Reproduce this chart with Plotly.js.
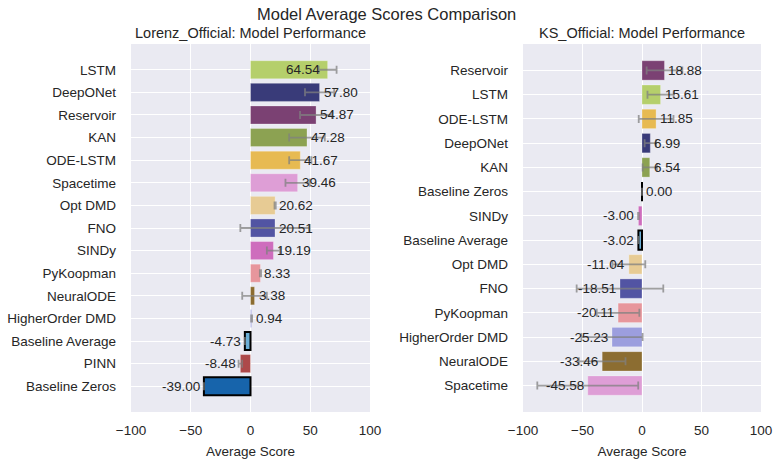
<!DOCTYPE html>
<html>
<head>
<meta charset="utf-8">
<script src="https://cdn.plot.ly/plotly-3.0.1.min.js"></script>
<style>
  html, body { margin: 0; padding: 0; background: #ffffff; }
  #chart { width: 779px; height: 465px; }
</style>
</head>
<body>
<div id="chart"></div>
<script>
// Lorenz_Official: models sorted by average score (top to bottom)
const lorenzModels = ["LSTM", "DeepONet", "Reservoir", "KAN", "ODE-LSTM", "Spacetime", "Opt DMD", "FNO",
  "SINDy", "PyKoopman", "NeuralODE", "HigherOrder DMD", "Baseline Average", "PINN", "Baseline Zeros"];
const lorenzScores = [64.54, 57.80, 54.87, 47.28, 41.67, 39.46, 20.62, 20.51,
  19.19, 8.33, 3.38, 0.94, -4.73, -8.48, -39.00];
const lorenzErrors = [7.5, 12.2, 13.4, 14.9, 9.3, 10.2, 0.5, 29.0,
  5.5, 0.5, 10.3, 0.4, 0, 1.5, 0];

// KS_Official: models sorted by average score (top to bottom)
const ksModels = ["Reservoir", "LSTM", "ODE-LSTM", "DeepONet", "KAN", "Baseline Zeros", "SINDy",
  "Baseline Average", "Opt DMD", "FNO", "PyKoopman", "HigherOrder DMD", "NeuralODE", "Spacetime"];
const ksScores = [18.88, 15.61, 11.85, 6.99, 6.54, 0.00, -3.00,
  -3.02, -11.04, -18.51, -20.11, -25.23, -33.46, -45.58];
const ksErrors = [15.0, 11.0, 14.6, 4.8, 6.0, 0, 0.3,
  0, 13.8, 36.4, 17.9, 25.7, 19.6, 42.4];

const xTicks = [-100, -50, 0, 50, 100];

// One fixed colour per model so both panels agree
const modelColors = {
  "LSTM": "#b5cf6b", "DeepONet": "#393b79", "Reservoir": "#7b4173", "KAN": "#8ca252",
  "ODE-LSTM": "#e7ba52", "Spacetime": "#de9ed6", "Opt DMD": "#e7cb94", "FNO": "#5254a3",
  "SINDy": "#ce6dbd", "PyKoopman": "#e7969c", "NeuralODE": "#8c6d31", "HigherOrder DMD": "#9c9ede",
  "Baseline Average": "#6baed6", "PINN": "#ad494a", "Baseline Zeros": "#1764ab"
};
const isBaseline = m => m.startsWith("Baseline");

const textColor = "#262626";
const fontFamily = "'Liberation Sans', Arial, Helvetica, sans-serif";

function barTrace(models, scores, errors, xa, ya) {
  return {
    type: "bar", orientation: "h",
    x: scores, y: models, xaxis: xa, yaxis: ya,
    width: 0.8,
    marker: {
      color: models.map(m => modelColors[m]),
      line: {
        color: models.map(m => isBaseline(m) ? "#000000" : "rgba(255,255,255,0.35)"),
        width: models.map(m => isBaseline(m) ? 2 : 0.8)
      }
    },
    error_x: {
      type: "data", array: errors, symmetric: true,
      color: "rgba(128,128,128,0.75)", thickness: 1.8, width: 4
    },
    hoverinfo: "x+y", showlegend: false
  };
}

function valueLabels(models, scores, xa, ya) {
  return scores.map((v, i) => {
    const crowded = v > 60;            // too close to the right edge: tuck inside the bar
    const right = v < 0 || crowded;
    return {
      x: v, y: models[i], xref: xa, yref: ya,
      text: v.toFixed(2), showarrow: false,
      xanchor: right ? "right" : "left",
      xshift: crowded ? -6 : (right ? -2 : 2),
      font: { family: fontFamily, size: 13.5, color: textColor }
    };
  });
}

function xAxis(domain, anchor) {
  return {
    domain: domain, anchor: anchor, range: [-100, 100],
    tickvals: xTicks, ticks: "", showline: false, zeroline: false,
    showgrid: true, gridcolor: "#ffffff", gridwidth: 1,
    tickfont: { family: fontFamily, size: 13.5, color: textColor },
    ticklabelstandoff: 8,
    title: { text: "Average Score", font: { family: fontFamily, size: 13.5, color: textColor }, standoff: 10 }
  };
}

function yAxis(domain, anchor, n) {
  const pad = 0.4 + 0.05 * (n - 1 + 0.8);
  return {
    domain: domain, anchor: anchor, type: "category",
    range: [n - 1 + pad, -pad],
    ticks: "", showline: false, zeroline: false,
    showgrid: true, gridcolor: "#ffffff", gridwidth: 1,
    tickfont: { family: fontFamily, size: 13.5, color: textColor },
    ticklabelstandoff: 14
  };
}

const yDom = [53 / 465, 421 / 465];

const data = [
  barTrace(lorenzModels, lorenzScores, lorenzErrors, "x", "y"),
  barTrace(ksModels, ksScores, ksErrors, "x2", "y2")
];

const annotations = [
  { text: "Model Average Scores Comparison", x: 386 / 779, y: 1 - 14 / 465, xref: "paper", yref: "paper",
    showarrow: false, xanchor: "center", yanchor: "middle",
    font: { family: fontFamily, size: 16.5, color: textColor } },
  { text: "Lorenz_Official: Model Performance", x: 250.5 / 779, y: 1 - 33 / 465, xref: "paper", yref: "paper",
    showarrow: false, xanchor: "center", yanchor: "middle",
    font: { family: fontFamily, size: 14.5, color: textColor } },
  { text: "KS_Official: Model Performance", x: 642 / 779, y: 1 - 33 / 465, xref: "paper", yref: "paper",
    showarrow: false, xanchor: "center", yanchor: "middle",
    font: { family: fontFamily, size: 14.5, color: textColor } }
].concat(valueLabels(lorenzModels, lorenzScores, "x", "y"))
 .concat(valueLabels(ksModels, ksScores, "x2", "y2"));

const layout = {
  width: 779, height: 465,
  margin: { l: 0, r: 0, t: 0, b: 0 },
  paper_bgcolor: "#ffffff",
  plot_bgcolor: "#eaeaf2",
  font: { family: fontFamily, color: textColor },
  xaxis: xAxis([131 / 779, 370 / 779], "y"),
  yaxis: yAxis(yDom, "x", lorenzModels.length),
  xaxis2: xAxis([523 / 779, 761 / 779], "y2"),
  yaxis2: yAxis(yDom, "x2", ksModels.length),
  annotations: annotations,
  bargap: 0.2
};

Plotly.newPlot("chart", data, layout, { displayModeBar: false, staticPlot: true });
</script>
</body>
</html>
